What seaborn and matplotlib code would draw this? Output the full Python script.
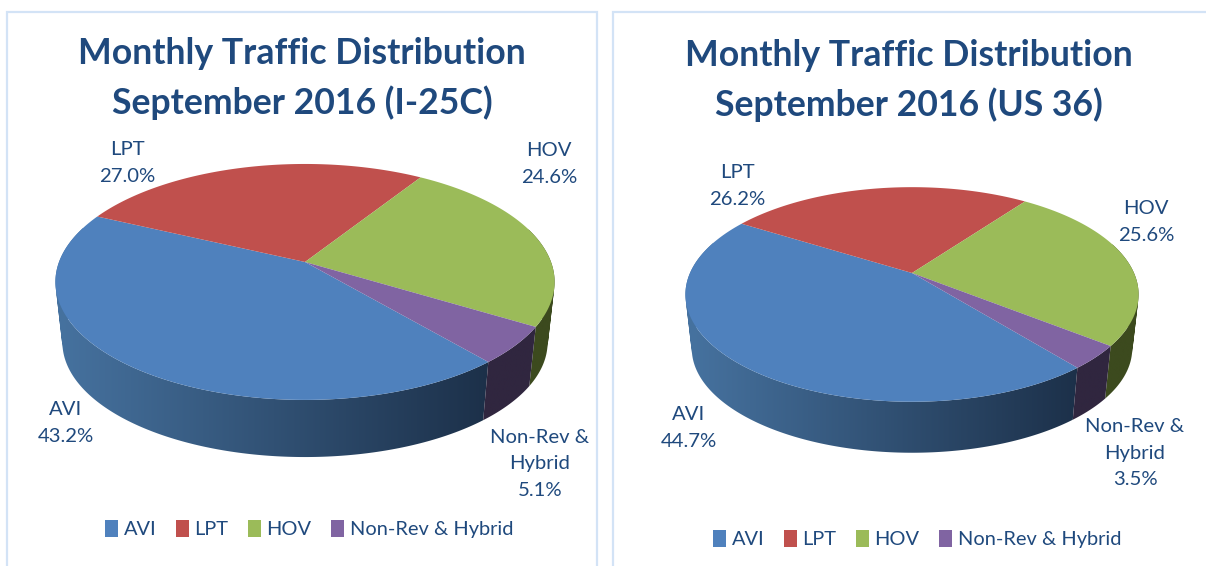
import numpy as np
import matplotlib
matplotlib.use("Agg")
import matplotlib.pyplot as plt
from matplotlib.colors import to_rgb
from matplotlib.patches import Patch, Rectangle
from matplotlib.path import Path
import seaborn as sns

categories = ['AVI', 'LPT', 'HOV', 'Non-Rev & Hybrid']
values_i25 = [43.2, 27.0, 24.6, 5.1]
values_us36 = [44.7, 26.2, 25.6, 3.5]
labels_i25 = ['AVI\n43.2%', 'LPT\n27.0%', 'HOV\n24.6%', 'Non-Rev &\nHybrid\n5.1%']
labels_us36 = ['AVI\n44.7%', 'LPT\n26.2%', 'HOV\n25.6%', 'Non-Rev &\nHybrid\n3.5%']
colors = ['#4f81bd', '#c0504d', '#9bbb59', '#8064a2']
side_light = ['#46729f', '#8a3835', '#4a5a26', '#3a2e4e']
side_dark = ['#1c3049', '#5e2523', '#3c4a1e', '#30263f']

W, H = 1206, 566
TEXT = '#1f497d'
SHRINK = 0.972  # lower rim of the disc is a bit smaller than the top

sns.set_theme(style='white')
plt.rcParams['font.family'] = ['Lato', 'DejaVu Sans']

fig = plt.figure(figsize=(W / 100, H / 100), dpi=100)
fig.patch.set_facecolor('white')


def project(theta, p):
    # tilted circle seen in perspective: near side bigger than far side
    t = np.radians(theta)
    u, v = np.cos(t), np.sin(t)
    return u / (1 + p * v), v / (1 + p * v)


def wall_path(th, p, d):
    # the wall as a set of same-way-round quads, only the ones facing us
    verts, codes = [], []
    for t1, t2 in zip(th[:-1], th[1:]):
        if np.sin(np.radians(t1)) > 0.3:
            continue
        x1, y1 = project(t1, p)
        x2, y2 = project(t2, p)
        q = [(x1, y1), (x2, y2), (x2 * SHRINK, y2 * SHRINK - d), (x1 * SHRINK, y1 * SHRINK - d)]
        qx, qy = np.array(q).T
        area = np.sum(qx * np.roll(qy, -1) - np.roll(qx, -1) * qy)
        if area < 0:
            q = q[::-1]
        verts += q + [q[0]]
        codes += [Path.MOVETO, Path.LINETO, Path.LINETO, Path.LINETO, Path.CLOSEPOLY]
    if not verts:
        return None  # slice is all on the far side
    return Path(verts, codes)


def draw_pie(values, labels, title, cx, cy, a, s, p, depth, start, label_pos, legend_x, legend_y, title_y):
    # axes tall enough for the side wall, data units stay relative to a and s
    low = 1 / (1 - p) * SHRINK + depth / s + 0.05
    xr = 1.06
    ax = fig.add_axes([(cx - a * xr) / W, 1 - (cy + s * low) / H, 2 * a * xr / W, s * (low + 1) / H])
    ax.patch.set_alpha(0)
    ax.set_axis_off()
    pal = sns.color_palette(colors)
    d = depth / s

    # slices run clockwise from the start angle
    edges = start - np.cumsum([0] + list(values)) / np.sum(values) * 360
    for i in range(len(values)):
        th = np.linspace(edges[i], edges[i + 1], 200)
        x, y = project(th, p)
        ax.fill(np.r_[0, x], np.r_[0, y], color=pal[i], lw=0, zorder=5)

        # side wall: horizontal gradient clipped to the wall shape
        wall = wall_path(th, p, d)
        if wall is None:
            continue
        frac = np.clip((np.linspace(-xr, xr, 300) + 1) / 1.75, 0, 1)[None, :, None]
        grad = np.array(to_rgb(side_light[i])) * (1 - frac) + np.array(to_rgb(side_dark[i])) * frac
        im = ax.imshow(grad, extent=(-xr, xr, -low, 1), aspect='auto', zorder=2, interpolation='bilinear')
        im.set_clip_path(wall, ax.transData)

    ax.set_xlim(-xr, xr)
    ax.set_ylim(-low, 1)

    for line, ty in zip(['Monthly Traffic Distribution', 'September 2016 (%s)' % title], title_y):
        fig.text((cx - 3) / W, 1 - ty / H, line, ha='center', va='center', fontsize=25.7,
                 fontweight='bold', color=TEXT)

    for lab, (px, py) in zip(labels, label_pos):
        fig.text(px / W, 1 - py / H, lab, ha='center', va='center', fontsize=14.6,
                 color=TEXT, linespacing=1.7)

    handles = [Patch(facecolor=c, edgecolor='none') for c in colors]
    fig.legend(handles, categories, loc='center', bbox_to_anchor=(legend_x / W, 1 - legend_y / H),
               ncol=4, frameon=False, fontsize=14.4, labelcolor=TEXT, handlelength=0.65,
               handleheight=0.9, handletextpad=0.3, columnspacing=0.95, borderpad=0)


draw_pie(values_i25, labels_i25, 'I-25C', 305, 262, 246, 114.6, 0.169, 61, -49.5,
         [(66, 423), (127, 163), (549, 164), (540, 464)], 309, 529, (54, 103))
draw_pie(values_us36, labels_us36, 'US 36', 912, 273, 222, 103, 0.2, 54.6, -51,
         [(689, 428), (737, 186), (1146, 222), (1135, 453)], 917, 539, (55, 105))

# panel borders
for x0, x1 in [(7, 597), (613, W + 5)]:
    fig.add_artist(Rectangle((x0 / W, -0.02), (x1 - x0) / W, 1.02 - 12 / H, transform=fig.transFigure,
                             fill=False, edgecolor='#d3e3f6', lw=1.6))

fig.savefig('out.png', dpi=100)
